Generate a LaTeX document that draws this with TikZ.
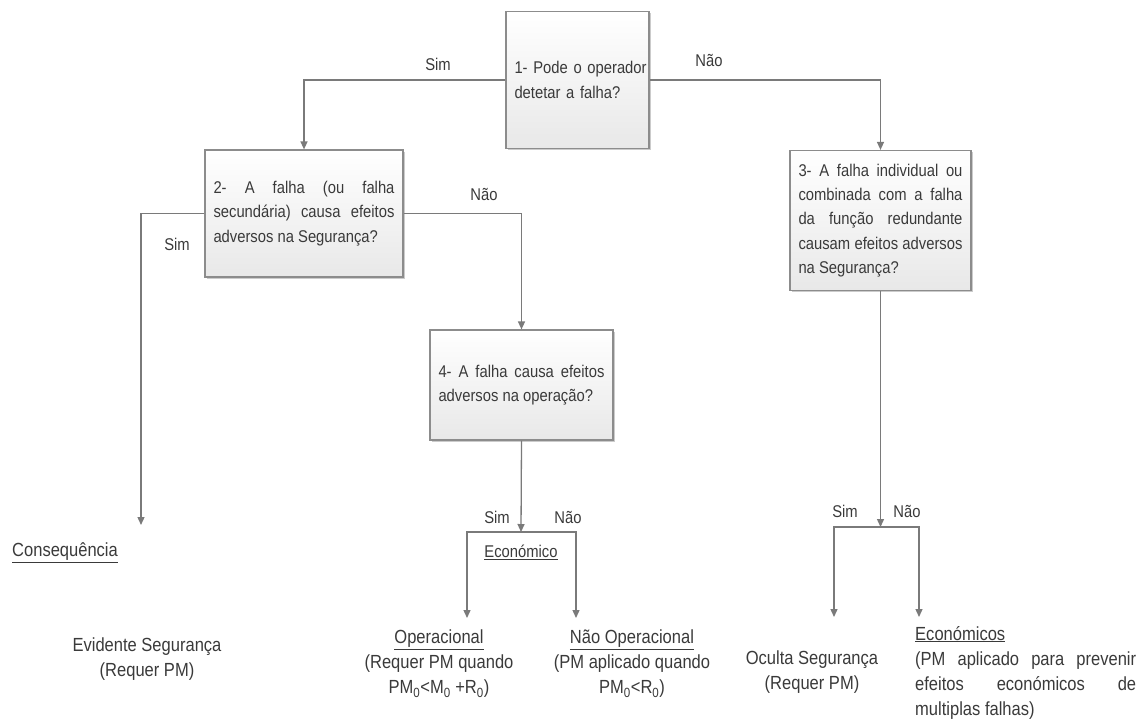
\documentclass[tikz,border=0pt]{standalone}
\usepackage{fontspec}
\setmainfont[FakeStretch=0.87]{Liberation Sans}
\usetikzlibrary{arrows.meta,shadows}

\definecolor{linegray}{HTML}{7A7A7A}
\definecolor{inkgray}{HTML}{3A3A3A}
\definecolor{boxedge}{HTML}{8C8C8C}

\newcommand{\smallface}{\fontsize{17}{24.2}\selectfont}
\newcommand{\largeface}{\fontsize{19}{25}\selectfont}

\tikzset{
  every node/.style={text=inkgray, font=\smallface},
  qbox/.style={draw=boxedge, line width=1.2pt, top color=white, bottom color=black!9,
    drop shadow={shadow xshift=1.6pt, shadow yshift=-1.6pt, fill=black!45, opacity=0.45},
    inner xsep=8.5pt, inner ysep=0pt, align=justify},
  conn/.style={draw=linegray, line width=1.3pt},
  arr/.style={conn, -{Triangle[length=8pt,width=7pt]}},
  lbl/.style={inner sep=0pt},
  outcome/.style={inner sep=0pt, font=\largeface},
}

\begin{document}
\begin{tikzpicture}[x=1pt,y=-1pt]
\path[use as bounding box] (0,0) rectangle (1143,721);

% question boxes
\node[qbox, text width=126, inner xsep=8.5pt, minimum height=137, align=left] (q1) at (577.5,80)
  {\mbox{1- Pode o operador}\\\mbox{detetar a falha?}};
\node[qbox, text width=181, minimum height=127] (q2) at (304,213.5)
  {2- A falha (ou falha\linebreak secundária) causa efeitos\linebreak adversos na Segurança?};
\node[qbox, text width=164, minimum height=140] (q3) at (880.5,220.5)
  {3- A falha individual ou\linebreak combinada com a falha\linebreak da função redundante\linebreak causam efeitos adversos\linebreak na Segurança?};
\node[qbox, text width=166, minimum height=110] (q4) at (521.5,385)
  {4- A falha causa efeitos\linebreak adversos na operação?};

% branch points and free ends
\coordinate (e2) at (141,525);
\coordinate (j4) at (521,532);
\coordinate (e4l) at (467,618);
\coordinate (e4r) at (576,618);
\coordinate (j3) at (880.5,527);
\coordinate (e3l) at (834,617);
\coordinate (e3r) at (919,617);

% connectors
\draw[arr] (q1.west) -| (q2.north);
\draw[arr] (q1.east) -| (q3.north);
\draw[arr] (q2.west) -| (e2);
\draw[arr] (q2.east) -| (q4.north);
\draw[arr] (q4.south) -- (j4);
\draw[arr] (j4) -| (e4l);
\draw[arr] (j4) -| (e4r);
\draw[arr] (q3.south) -- (j3);
\draw[arr] (j3) -| (e3l);
\draw[arr] (j3) -| (e3r);

% branch labels
\node[lbl] (s1) at (438,64) {Sim};
\node[lbl] (n1) at (709,60) {Não};
\node[lbl] (s2) at (177,244) {Sim};
\node[lbl] (n2) at (484,194) {Não};
\node[lbl] (s4) at (497,517) {Sim};
\node[lbl] (n4) at (568,517) {Não};
\node[lbl] (s3) at (845,511) {Sim};
\node[lbl] (n3) at (907,511) {Não};

% consequences
\node[outcome, anchor=west] (cons) at (12,553) {\underline{Consequência}};
\node[lbl] (econ) at (521,552) {\underline{Económico}};
\node[outcome, align=center] (evid) at (147,659.5) {Evidente Segurança\\(Requer PM)};
\node[outcome, align=center] (oper) at (439,664)
  {\underline{Operacional}\\(Requer PM quando\\PM\textsubscript{0}<M\textsubscript{0} +R\textsubscript{0})};
\node[outcome, align=center] (noper) at (632,664)
  {\underline{Não Operacional}\\(PM aplicado quando\\PM\textsubscript{0}<R\textsubscript{0})};
\node[outcome, align=center] (ocul) at (812,672.5) {Oculta Segurança\\(Requer PM)};
\node[outcome, anchor=west, text width=221, align=justify] (econs) at (915,672.5)
  {\underline{Económicos}\\(PM aplicado para prevenir\linebreak efeitos económicos de\linebreak multiplas falhas)};
\end{tikzpicture}
\end{document}
